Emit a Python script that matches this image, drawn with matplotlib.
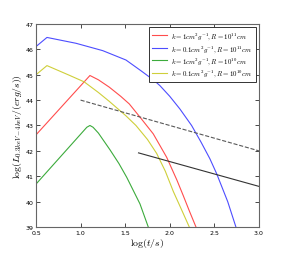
import numpy as np
import matplotlib
matplotlib.use('Agg')
import matplotlib.pyplot as plt

plt.rcParams['mathtext.fontset'] = 'cm'

# values, log(t/s) vs log L
red_x = [0.5, 1.105, 1.2, 1.322, 1.45, 1.546, 1.666, 1.815, 1.965, 2.08, 2.151, 2.22, 2.294]
red_y = [42.63, 44.97, 44.8, 44.51, 44.15, 43.85, 43.33, 42.67, 41.75, 40.85, 40.24, 39.63, 39.0]

blue_x = [0.5, 0.623, 0.948, 1.248, 1.509, 1.68, 1.826, 1.89, 2.0, 2.114, 2.245, 2.35, 2.45, 2.526, 2.65, 2.742]
blue_y = [46.11, 46.47, 46.24, 45.95, 45.58, 45.15, 44.77, 44.57, 44.15, 43.65, 43.0, 42.35, 41.69, 41.1, 40.0, 39.0]

green_x = [0.5, 1.07, 1.105, 1.14, 1.2, 1.33, 1.43, 1.517, 1.554, 1.666, 1.759]
green_y = [40.69, 42.93, 43.0, 42.93, 42.7, 42.04, 41.5, 40.96, 40.7, 39.91, 39.0]

yellow_x = [0.5, 0.623, 0.873, 1.04, 1.2, 1.322, 1.509, 1.621, 1.75, 1.853, 1.95, 2.04, 2.13, 2.219]
yellow_y = [45.0, 45.36, 44.98, 44.72, 44.3, 43.95, 43.38, 43.0, 42.45, 41.9, 41.2, 40.4, 39.7, 39.0]

dash_x = [1.0, 3.0]
dash_y = [44.0, 42.0]

black_x = [1.65, 3.0]
black_y = [41.92, 40.6]

labels = [r'$k=1cm^2g^{-1},R=10^{11}cm$',
          r'$k=0.1cm^2g^{-1},R=10^{11}cm$',
          r'$k=1cm^2g^{-1},R=10^{10}cm$',
          r'$k=0.1cm^2g^{-1},R=10^{10}cm$']
colors = ['#ff4d4d', '#4d4dff', '#3cab3c', '#cfcf3a']

fig = plt.figure(figsize=(2.88, 2.55), dpi=100)
ax = fig.add_axes([0.125, 0.106, 0.774, 0.796])

ax.plot(red_x, red_y, color=colors[0], lw=0.8, label=labels[0])
ax.plot(blue_x, blue_y, color=colors[1], lw=0.8, label=labels[1])
ax.plot(green_x, green_y, color=colors[2], lw=0.8, label=labels[2])
ax.plot(yellow_x, yellow_y, color=colors[3], lw=0.8, label=labels[3])
ax.plot(dash_x, dash_y, color='0.35', lw=0.8, ls='--')
ax.plot(black_x, black_y, color='0.2', lw=0.8)

ax.set_xlim(0.5, 3.0)
ax.set_ylim(39, 47)
ax.set_xticks([0.5, 1.0, 1.5, 2.0, 2.5, 3.0])
ax.set_yticks(range(39, 48))
ax.tick_params(direction='in', top=True, right=True, labelsize=4.5, length=3, width=0.5, pad=2)
for s in ax.spines.values():
    s.set_linewidth(0.8)
    s.set_color('0.4')

ax.set_xlabel(r'$\log(t/s)$', fontsize=7, labelpad=1)
ax.set_ylabel(r'$\log(L_{0.3keV-4keV}/(erg/s))$', fontsize=7, labelpad=1)

leg = ax.legend(loc='upper right', fontsize=4.9, handlelength=2.3, borderpad=0.45,
                labelspacing=0.25, handletextpad=0.6, fancybox=False, framealpha=1)
leg.get_frame().set_edgecolor('0.2')
leg.get_frame().set_linewidth(0.7)

fig.savefig('out.png', dpi=100)
